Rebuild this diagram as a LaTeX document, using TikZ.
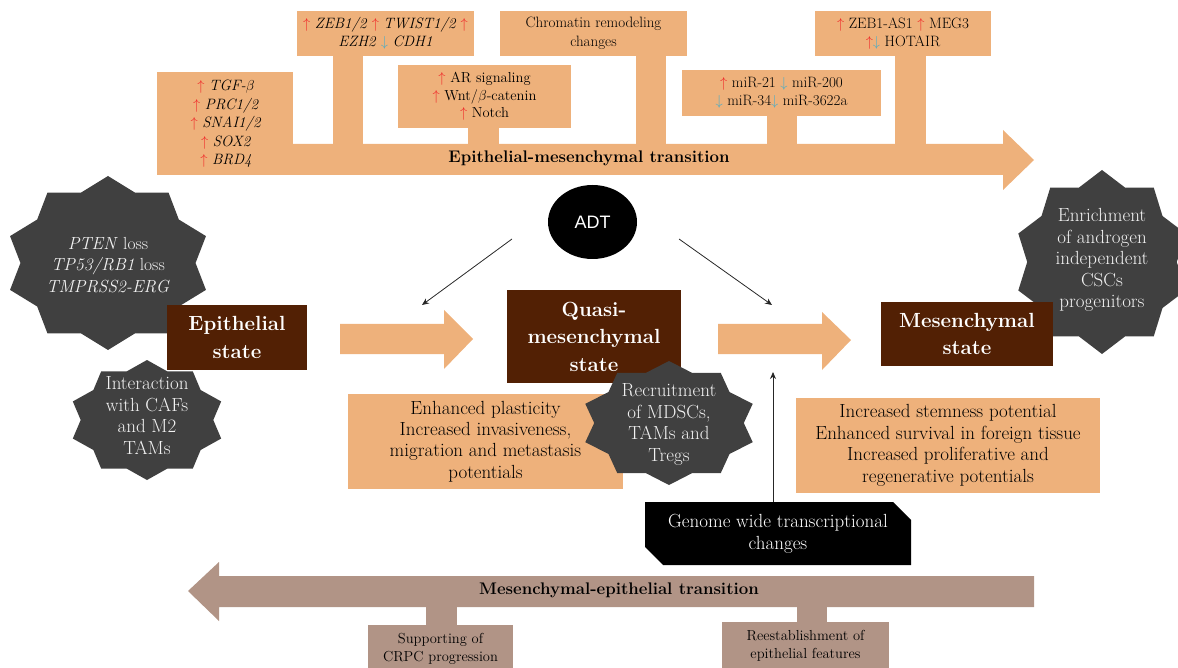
\documentclass[tikz,border=0pt]{standalone}
\usepackage{fontspec}
\newfontfamily\adtfont{Liberation Sans}
\usetikzlibrary{arrows.meta,shapes.misc,shapes.geometric}
\definecolor{orng}{RGB}{238,177,123}
\definecolor{brwn}{RGB}{82,32,4}
\definecolor{darkg}{RGB}{64,64,64}
\definecolor{taupe}{RGB}{177,148,134}
\definecolor{upr}{RGB}{240,40,40}
\definecolor{dnb}{RGB}{75,172,198}
\definecolor{lighttxt}{RGB}{242,242,242}
\newcommand{\up}{\textcolor{upr}{$\uparrow$}}
\newcommand{\dn}{\textcolor{dnb}{$\downarrow$}}
\newcommand{\fs}[2]{\fontsize{#1}{#2}\selectfont}
\newcommand{\tenstar}[4]{\fill[darkg] ({#1},{#2-#4}) \foreach \i in {1,...,19}{ -- ({#1+#3*(1-0.15*mod(\i,2))*cos(90+18*\i)},{#2-#4*(1-0.15*mod(\i,2))*sin(90+18*\i)}) } -- cycle;}
\tikzset{
  obox/.style={fill=orng, inner sep=0pt, align=center, text=black},
  tbox/.style={fill=taupe, inner sep=0pt, align=center, text=black, font=\fs{14.5}{18}},
  statebox/.style={fill=brwn, inner sep=0pt, align=center, text=white, font=\bfseries\fs{20.5}{27.5}},
  startext/.style={text=lighttxt, align=center, inner sep=0pt, font=\fs{19}{21.6}},
  topfont/.style={font=\fs{15}{18.5}},
  adtarrow/.style={draw=black!85, line width=0.8pt, -{Stealth[length=7pt,width=6pt]}},
}
\begin{document}
\begin{tikzpicture}[x=1pt,y=-1pt]
\useasboundingbox (0,0) rectangle (1178,668);
\clip (0,0) rectangle (1178,668);

% ---------- top EMT compound arrow ----------
\fill[orng] (157,144) -- (1003,144) -- (1003,130) -- (1034,160) -- (1003,190) -- (1003,175) -- (157,175) -- cycle;
\fill[orng] (157,72) rectangle (293,175);
\fill[orng] (333,56) rectangle (363,144);
\fill[orng] (468,128) rectangle (499,144);
\fill[orng] (636,56) rectangle (666,144);
\fill[orng] (767,116) rectangle (797,144);
\fill[orng] (895,56) rectangle (926,144);

\node[topfont, align=center, inner sep=0pt] (tgf) at (226,124)
  {\up\ \textit{TGF-$\beta$}\\ \up\ \textit{PRC1/2}\\ \up\ \textit{SNAI1/2}\\ \up\ \textit{SOX2}\\ \up\ \textit{BRD4}};
\node[obox, topfont, minimum width=177pt, minimum height=45pt] (zeb) at (385.5,33.5)
  {\up\ \textit{ZEB1/2} \up\ \textit{TWIST1/2} \up\\ \textit{EZH2} \dn\ \textit{CDH1}};
\node[obox, font=\fs{14.5}{17.5}, minimum width=173pt, minimum height=63pt] (ar) at (484.5,96.5)
  {\up\ AR signaling\\ \up\ Wnt/$\beta$-catenin\\ \up\ Notch};
\node[obox, topfont, minimum width=187pt, minimum height=45pt] (chr) at (593.5,33.5)
  {Chromatin remodeling\\ changes};
\node[obox, topfont, minimum width=199pt, minimum height=46pt] (mir) at (781.5,93)
  {\up\ miR-21 \dn\ miR-200\\ \dn\ miR-34\dn\ miR-3622a};
\node[obox, topfont, minimum width=176pt, minimum height=45pt] (lnc) at (903,33.5)
  {\up\ ZEB1-AS1 \up\ MEG3\\ \up\dn\ HOTAIR};
\node[font=\bfseries\fs{16.8}{18}, inner sep=0pt] (emt) at (589,158) {Epithelial-mesenchymal transition};

% ---------- stars (background) ----------
\tenstar{108}{263}{103}{87}
\tenstar{147}{420}{78}{60}
\tenstar{1102}{262}{88}{92}

\node[startext, font=\fs{17.5}{21.6}] (gen1) at (108,265)
  {\textit{PTEN} loss\\ \textit{TP53/RB1} loss\\ \textit{TMPRSS2-ERG}};
\node[startext] (caf) at (147,415.5)
  {Interaction\\ with CAFs\\ and M2\\ TAMs};
\node[startext] (csc) at (1102,260)
  {Enrichment\\ of androgen\\ independent\\ CSCs\\ progenitors};

% ---------- ADT ----------
\node[ellipse, fill=black, minimum width=89pt, minimum height=74pt, inner sep=0pt, text=white, font=\adtfont\fs{18}{20}] (adt) at (592.5,222) {ADT};
\coordinate (adtL0) at (512,239);
\coordinate (adtL1) at (422,305);
\coordinate (adtR0) at (679,239);
\coordinate (adtR1) at (772,305);
\draw[adtarrow] (adtL0) -- (adtL1);
\draw[adtarrow] (adtR0) -- (adtR1);

% ---------- middle arrows ----------
\fill[orng] (340,324) -- (444,324) -- (444,310) -- (473,339) -- (444,369) -- (444,354) -- (340,354) -- cycle;
\fill[orng] (718,324) -- (822,324) -- (822,312) -- (851,340) -- (822,370) -- (822,354) -- (718,354) -- cycle;

% ---------- state boxes ----------
\node[statebox, minimum width=140pt, minimum height=65pt] (epi) at (237,337.5) {Epithelial\\ state};
\node[statebox, minimum width=174pt, minimum height=92pt] (qm) at (594,336.5) {Quasi-\\ mesenchymal\\ state};
\node[statebox, minimum width=172pt, minimum height=64pt] (mes) at (967,334) {Mesenchymal\\ state};

% ---------- info boxes ----------
\node[obox, font=\fs{19}{21.4}, minimum width=275pt, minimum height=95pt] (plast) at (485.5,441.5)
  {Enhanced plasticity\\ Increased invasiveness,\\ migration and metastasis\\ potentials};
\node[obox, font=\fs{19}{21.6}, minimum width=304pt, minimum height=95pt] (stem) at (948,445.5)
  {Increased stemness potential\\ Enhanced survival in foreign tissue\\ Increased proliferative and\\ regenerative potentials};

% recruitment star on top
\tenstar{669}{423}{88}{62}
\node[startext] (mdsc) at (669,424.5)
  {Recruitment\\ of MDSCs,\\ TAMs and\\ Tregs};

% ---------- genome box ----------
\node[chamfered rectangle, chamfered rectangle corners={north east,south west},
      chamfered rectangle xsep=9pt, chamfered rectangle ysep=9pt,
      fill=black, text=white, align=center, inner sep=0pt,
      minimum width=266pt, minimum height=63pt, font=\fs{19}{22}] (gen) at (778,533.5)
  {Genome wide transcriptional\\ changes};
\coordinate (vt) at (773,372);
\draw[adtarrow] (gen.north -| vt) -- (vt);

% ---------- MET arrow ----------
\fill[taupe] (1034,576) -- (219,576) -- (219,562) -- (188,591) -- (219,621) -- (219,607) -- (1034,607) -- cycle;
\fill[taupe] (426,607) rectangle (457,626);
\fill[taupe] (797,607) rectangle (827,623);
\node[font=\bfseries\fs{16.8}{18}, inner sep=0pt] (met) at (619,590) {Mesenchymal-epithelial transition};
\node[tbox, minimum width=145pt, minimum height=48pt, anchor=north] (crpc) at (440.5,625)
  {Supporting of\\ CRPC progression};
\node[tbox, minimum width=167pt, minimum height=48pt, anchor=north] (reest) at (805.5,622)
  {Reestablishment of\\ epithelial features};
\end{tikzpicture}
\end{document}
